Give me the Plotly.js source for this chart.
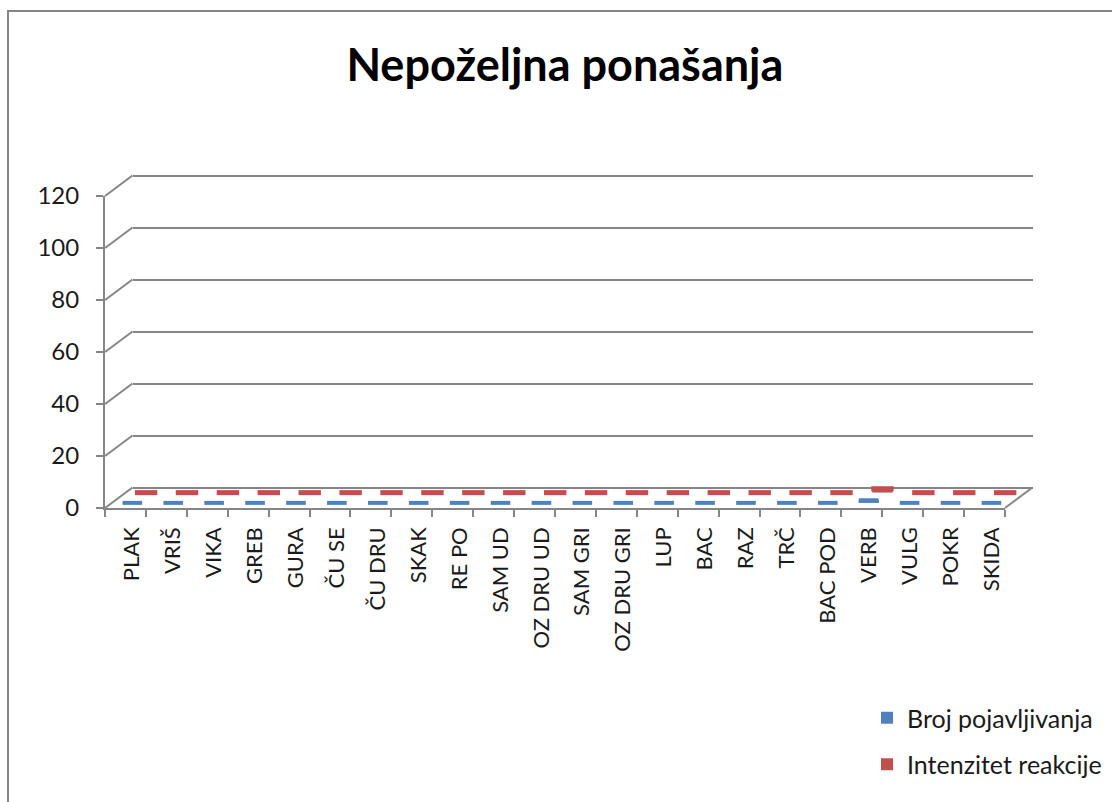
<!DOCTYPE html>
<html>
<head>
<meta charset="utf-8">
<script src="https://cdn.plot.ly/plotly-3.0.1.min.js"></script>
<style>html,body{margin:0;padding:0;background:#fff;}#chart{width:1112px;height:802px;}</style>
</head>
<body>
<div id="chart"></div>
<script>
const categories = ["PLAK","VRIŠ","VIKA","GREB","GURA","ČU SE","ČU DRU","SKAK","RE PO","SAM UD","OZ DRU UD","SAM GRI","OZ DRU GRI","LUP","BAC","RAZ","TRČ","BAC POD","VERB","VULG","POKR","SKIDA"];
const brojPojavljivanja = [0,0,0,0,0,0,0,0,0,0,0,0,0,0,0,0,0,0,1,0,0,0];
const intenzitetReakcije = [0,0,0,0,0,0,0,0,0,0,0,0,0,0,0,0,0,0,1.5,0,0,0];
const yTicks = [0,20,40,60,80,100,120];
const seriesNames = ["Broj pojavljivanja","Intenzitet reakcije"];
const title = "Nepoželjna ponašanja";

const W = 1112, H = 802;
const fx = p => p / W;
const fy = p => 1 - p / H;
const X0 = 105, X1 = 1005, Y0 = 508, Y1 = 196;
const DX = 27.5, DY = 20.5;
const yMax = 120;
const K = (Y0 - Y1) / yMax;          // px per unit
const gray = '#868686';
const FONT = 'Lato, "Open Sans", sans-serif';
const blue = '#4f81bd', red = '#c0504d';
const pxOf = v => Y0 - v * K;

function xd(f){ return [fx(X0 + f*DX), fx(X1 + f*DX)]; }
function yd(f, pad){ pad = pad || 0; return [fy(Y0 - f*DY + pad*K), fy(Y1 - f*DY - pad*K)]; }

const catRange = [-0.5, categories.length - 0.5];
const wallPad = 1;

// invisible carrier traces so the front axes and the back wall get drawn
const carrier = (xa, ya) => ({type:'scatter', mode:'markers', x:categories, y:brojPojavljivanja,
  xaxis:xa, yaxis:ya, marker:{opacity:0, size:1}, showlegend:false, hoverinfo:'skip'});

const traces = [
  carrier('x','y'),
  carrier('x2','y2'),
  {type:'bar', x:categories, y:brojPojavljivanja, xaxis:'x3', yaxis:'y3', name:seriesNames[0],
   marker:{color:blue}, width:0.5, legendgroup:'a', cliponaxis:false, hoverinfo:'x+y'},
  {type:'scatter', mode:'markers', x:categories, y:brojPojavljivanja, xaxis:'x3', yaxis:'y3',
   marker:{symbol:'line-ew', size:14, color:blue, line:{width:4, color:blue}},
   showlegend:false, cliponaxis:false, hoverinfo:'skip'},
  {type:'bar', x:categories, y:intenzitetReakcije, xaxis:'x4', yaxis:'y4', name:seriesNames[1],
   marker:{color:red}, width:0.5, legendgroup:'b', cliponaxis:false, hoverinfo:'x+y'},
  {type:'scatter', mode:'markers', x:categories, y:intenzitetReakcije, xaxis:'x4', yaxis:'y4',
   marker:{symbol:'line-ew', size:16, color:red, line:{width:5, color:red}},
   showlegend:false, cliponaxis:false, hoverinfo:'skip'}
];

const shapes = [];
// chart border
shapes.push({type:'rect', xref:'paper', yref:'paper', x0:fx(8), x1:1.02, y0:-0.02, y1:fy(11),
  line:{color:gray, width:2}, fillcolor:'rgba(0,0,0,0)', layer:'below'});
// left diagonal connectors of the walls
yTicks.forEach(v => {
  shapes.push({type:'line', xref:'paper', yref:'paper',
    x0:fx(X0), y0:fy(pxOf(v)), x1:fx(X0+DX), y1:fy(pxOf(v)-DY),
    line:{color:gray, width:2}});
});
// right floor edge
shapes.push({type:'line', xref:'paper', yref:'paper',
  x0:fx(X1), y0:fy(Y0), x1:fx(X1+DX), y1:fy(Y0-DY), line:{color:gray, width:2}});

const hidden = {visible:false};

const layout = {
  width:W, height:H,
  margin:{l:0,r:0,t:0,b:0},
  paper_bgcolor:'#ffffff', plot_bgcolor:'rgba(0,0,0,0)',
  font:{family:FONT, color:'#1a1a1a', size:22},
  title:{text:title, x:0.508, xanchor:'center', y:fy(65), yanchor:'middle',
         font:{family:FONT, size:45, weight:700, color:'#000'}},
  showlegend:true,
  legend:{x:fx(867), xanchor:'left', y:fy(695), yanchor:'top', font:{size:25, family:FONT},
          traceorder:'grouped', tracegroupgap:11, bgcolor:'rgba(0,0,0,0)'},
  xaxis:{domain:xd(0), type:'category', range:catRange, anchor:'y', showline:true, linecolor:gray, linewidth:2,
         ticks:'outside', tickson:'boundaries', ticklen:7, tickwidth:2, tickcolor:gray,
         showticklabels:false, showgrid:false, zeroline:false, fixedrange:true},
  yaxis:{domain:yd(0), range:[0,yMax], tickvals:yTicks, anchor:'x', showline:true, linecolor:gray, linewidth:2,
         ticks:'outside', ticklen:7, tickwidth:2, tickcolor:gray, ticklabelstandoff:12,
         tickfont:{size:24, family:FONT, color:'#1a1a1a'}, showgrid:false, zeroline:false, fixedrange:true},
  xaxis2:Object.assign({domain:xd(1), type:'category', range:catRange, anchor:'y2'}, hidden),
  yaxis2:{domain:yd(1, wallPad), range:[-wallPad, yMax + wallPad], tickvals:yTicks, anchor:'x2',
          showgrid:true, gridcolor:gray, gridwidth:2,
          showticklabels:false, ticks:'', showline:false, zeroline:false, fixedrange:true},
  xaxis3:{domain:xd(0.25), type:'category', range:catRange, anchor:'y3', showline:false, showgrid:false,
          zeroline:false, ticks:'', tickangle:-90, ticklabelstandoff:19,
          tickfont:{size:22, family:FONT, color:'#1a1a1a'}, fixedrange:true},
  yaxis3:Object.assign({domain:yd(0.25), range:[0,yMax], anchor:'x3'}, hidden),
  xaxis4:Object.assign({domain:xd(0.75), type:'category', range:catRange, anchor:'y4'}, hidden),
  yaxis4:Object.assign({domain:yd(0.75), range:[0,yMax], anchor:'x4'}, hidden),
  shapes:shapes
};

Plotly.newPlot('chart', traces, layout, {staticPlot:true, displayModeBar:false});
</script>
</body>
</html>
